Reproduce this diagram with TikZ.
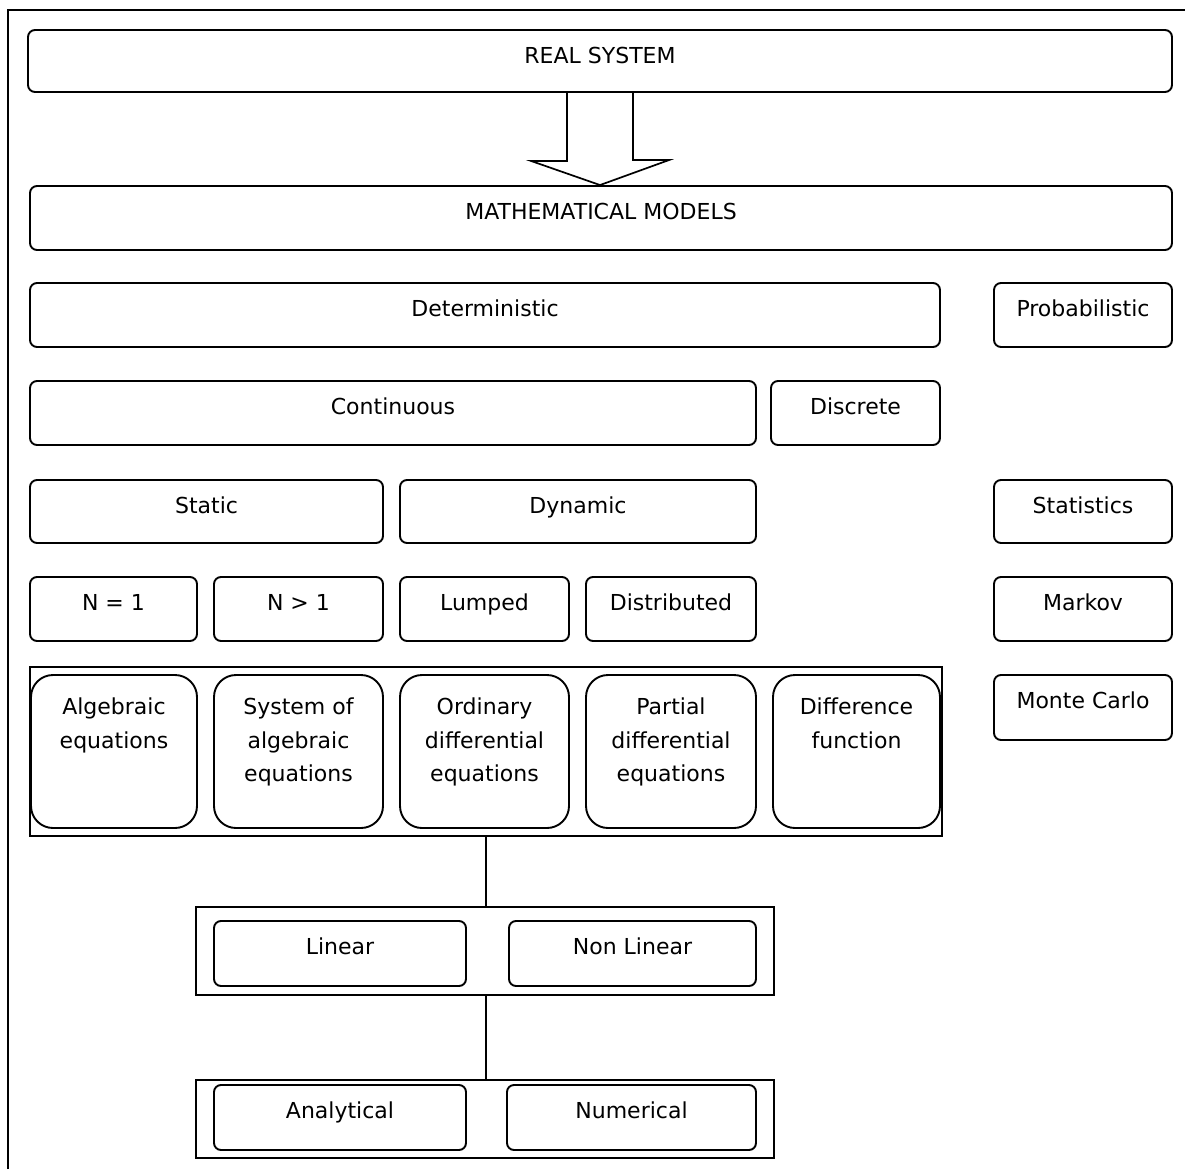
\documentclass[tikz,border=0pt]{standalone}
\usepackage{fontspec}
\setmainfont{DejaVu Sans}
\newcommand\Bx[7]{\node[#1, minimum width={(#5-#3)*1pt}, minimum height={(#6-#4)*1pt}] (#2) at ({(#3+#5)/2},{(#4+#6)/2}) {};
  \node[lbl] (#2-t) at ([yshift=-34pt]#2.north) {#7};}
\newcommand\Bm[7]{\node[#1, minimum width={(#5-#3)*1pt}, minimum height={(#6-#4)*1pt}] (#2) at ({(#3+#5)/2},{(#4+#6)/2}) {};
  \node[mlbl] (#2-t) at ([yshift=-24pt]#2.north) {#7};}
\newcommand\Fr[5]{\node[frame, minimum width={(#4-#2)*1pt}, minimum height={(#5-#3)*1pt}] (#1) at ({(#2+#4)/2},{(#3+#5)/2}) {};}
\begin{document}
\begin{tikzpicture}[x=1pt,y=-1pt,
 bx/.style={draw, line width=1.9pt, rounded corners=7pt, inner sep=0pt},
 bigbx/.style={draw, line width=1.9pt, rounded corners=22pt, inner sep=0pt},
 frame/.style={draw, line width=1.6pt, inner sep=0pt},
 lbl/.style={anchor=base, inner sep=0pt, font=\fontsize{22}{33}\selectfont},
 mlbl/.style={anchor=north, align=center, inner sep=0pt, font=\fontsize{22}{33.5}\selectfont},
 conn/.style={line width=1.6pt},
]
\useasboundingbox (0,0) rectangle (1185,1169);
% page border (left and top)
\draw[line width=1.6pt] (8,1169) -- (8,10) -- (1185,10);

\Bx{bx}{real}{28}{30}{1172}{92}{REAL SYSTEM}
\Bx{bx}{math}{30}{186}{1172}{250}{MATHEMATICAL MODELS}
% hollow arrow
\coordinate (tip) at (real.south |- math.north);
\draw[line width=1.7pt, line join=miter]
  ([xshift=-33pt]real.south) -- ++(0,68) -- ++(-36,0) -- (tip)
  -- ++(69,-25) -- ++(-36,0) -- ([xshift=33pt]real.south);

\Bx{bx}{det}{30}{283}{940}{347}{Deterministic}
\Bx{bx}{prob}{994}{283}{1172}{347}{Probabilistic}
\Bx{bx}{cont}{30}{381}{756}{445}{Continuous}
\Bx{bx}{disc}{771}{381}{940}{445}{Discrete}
\Bx{bx}{stat}{30}{480}{383}{543}{Static}
\Bx{bx}{dyn}{400}{480}{756}{543}{Dynamic}
\Bx{bx}{stats}{994}{480}{1172}{543}{Statistics}
\Bx{bx}{n1}{30}{577}{197}{641}{N = 1}
\Bx{bx}{ng}{214}{577}{383}{641}{N > 1}
\Bx{bx}{lump}{400}{577}{569}{641}{Lumped}
\Bx{bx}{dist}{586}{577}{756}{641}{Distributed}
\Bx{bx}{markov}{994}{577}{1172}{641}{Markov}
\Bx{bx}{monte}{994}{675}{1172}{740}{Monte Carlo}

\Fr{eqf}{30}{667}{942}{836}
\Bm{bigbx}{alg}{31}{675}{197}{828}{Algebraic\\equations}
\Bm{bigbx}{sys}{214}{675}{383}{828}{System of\\algebraic\\equations}
\Bm{bigbx}{ode}{400}{675}{569}{828}{Ordinary\\differential\\equations}
\Bm{bigbx}{pde}{586}{675}{756}{828}{Partial\\differential\\equations}
\Bm{bigbx}{diff}{773}{675}{940}{828}{Difference\\function}

\Fr{linf}{196}{907}{774}{995}
\Bx{bx}{lin}{214}{921}{466}{986}{Linear}
\Bx{bx}{nonlin}{509}{921}{756}{986}{Non Linear}

\Fr{anaf}{196}{1080}{774}{1158}
\Bx{bx}{ana}{214}{1085}{466}{1150}{Analytical}
\Bx{bx}{num}{507}{1085}{756}{1150}{Numerical}

\draw[conn] (eqf.south) -- (eqf.south |- linf.north);
\draw[conn] (linf.south -| eqf.south) -- (eqf.south |- anaf.north);
\end{tikzpicture}
\end{document}
